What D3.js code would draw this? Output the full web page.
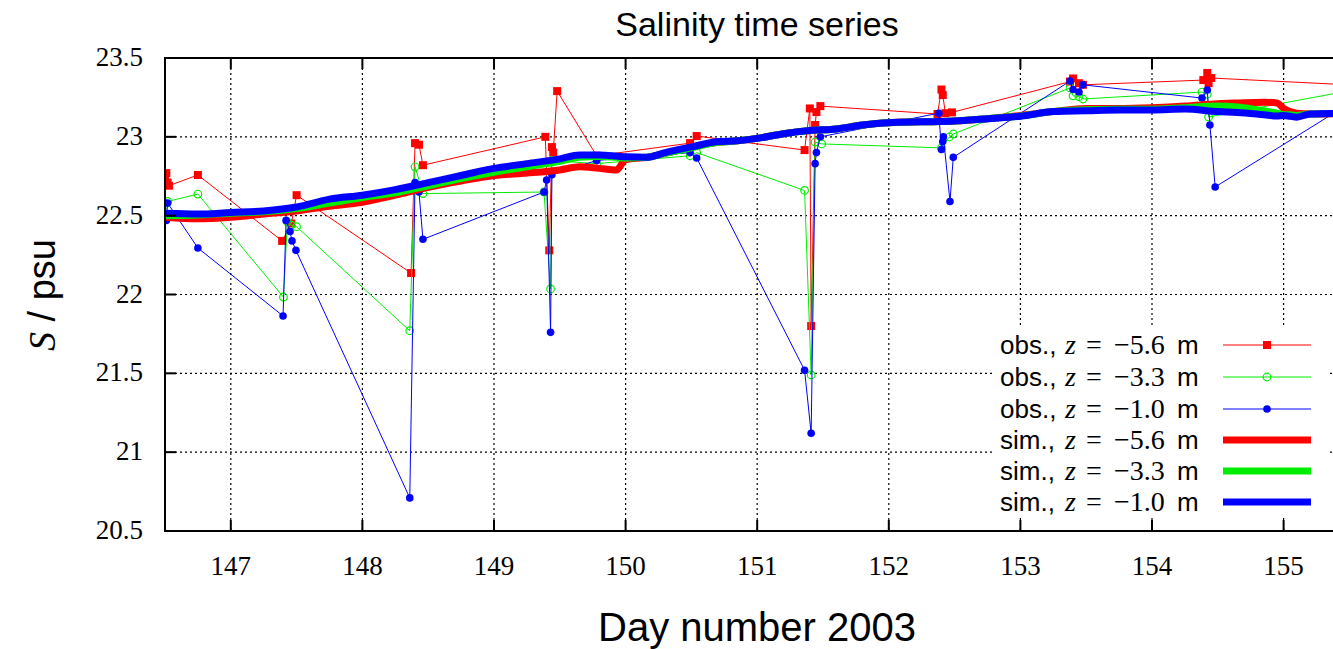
<!DOCTYPE html>
<html><head><meta charset="utf-8">
<script src="https://cdn.jsdelivr.net/npm/d3@7"></script>
<style>body{margin:0;background:#fff}svg{display:block}</style>
</head><body>
<svg id="c" width="1333" height="649"></svg>
<script>
// ---- data ----
const xTicks = [147,148,149,150,151,152,153,154,155];
const yTicks = [20.5,21,21.5,22,22.5,23,23.5];

const obsRedT = [146.50,146.51,146.52,146.53,146.75,147.39,147.46,147.50,148.37,148.40,148.43,148.46,149.39,149.42,149.44,149.45,149.48,149.78,150.49,150.54,151.36,151.40,151.41,151.44,151.45,151.48,152.37,152.40,152.41,152.43,152.48,153.377,153.40,153.445,153.475,154.39,154.42,154.43,154.45,155.42];
const obsRedS = [22.745,22.77,22.71,22.69,22.758,22.34,22.45,22.63,22.136,22.96,22.95,22.82,23.0,22.28,22.935,22.90,23.29,22.88,22.96,23.005,22.916,23.18,21.80,23.075,23.157,23.195,23.145,23.30,23.265,23.15,23.155,23.35,23.37,23.34,23.33,23.36,23.405,23.34,23.373,23.333];

const obsGreenT = [146.50,146.52,146.75,147.40,147.43,147.46,147.50,148.36,148.40,148.46,149.38,149.43,149.44,149.78,150.49,150.54,151.36,151.41,151.44,151.49,152.40,152.46,152.49,153.377,153.40,153.445,153.475,154.38,154.42,154.43,155.42];
const obsGreenS = [22.57,22.59,22.637,21.984,22.46,22.44,22.43,21.77,22.81,22.64,22.65,22.035,22.85,22.83,22.88,22.90,22.66,21.49,22.967,22.955,22.93,22.999,23.018,23.31,23.26,23.255,23.24,23.284,23.27,23.126,23.28];

const obsBlueT = [146.50,146.51,146.52,146.75,147.397,147.42,147.45,147.465,147.495,148.36,148.40,148.43,148.46,149.38,149.40,149.43,149.44,149.78,150.49,150.54,151.36,151.41,151.44,151.45,151.48,152.38,152.40,152.41,152.415,152.465,152.49,153.377,153.40,153.445,153.475,154.38,154.42,154.44,154.48,155.42];
const obsBlueS = [22.58,22.47,22.58,22.295,21.864,22.47,22.40,22.34,22.28,20.71,22.71,22.65,22.35,22.65,22.726,21.76,22.76,22.85,22.90,22.866,21.52,21.12,22.83,22.90,23.0,23.15,22.92,22.97,23.0,22.59,22.87,23.354,23.30,23.284,23.33,23.246,23.297,23.075,22.682,23.17];

const simT = [146.5,146.75,147,147.25,147.5,147.75,148,148.25,148.5,148.75,149,149.25,149.5,149.65,149.8,149.93,150,150.16,150.3,150.5,150.7,150.85,151,151.2,151.4,151.6,151.8,152,152.25,152.5,152.75,153,153.25,153.5,153.75,154,154.25,154.5,154.65,154.85,154.95,155,155.05,155.1,155.2,155.5];
const simRed   = [22.49,22.48,22.49,22.51,22.53,22.56,22.585,22.63,22.68,22.72,22.755,22.77,22.79,22.81,22.80,22.79,22.855,22.87,22.895,22.935,22.965,22.975,22.99,23.02,23.04,23.05,23.075,23.09,23.095,23.10,23.115,23.135,23.16,23.18,23.18,23.185,23.195,23.21,23.215,23.22,23.215,23.18,23.16,23.15,23.145,23.15];
const simGreen = [22.50,22.505,22.515,22.525,22.545,22.58,22.615,22.645,22.69,22.735,22.775,22.81,22.845,22.87,22.875,22.87,22.865,22.87,22.895,22.93,22.965,22.975,22.99,23.02,23.04,23.05,23.075,23.09,23.095,23.10,23.115,23.132,23.16,23.172,23.175,23.175,23.185,23.195,23.19,23.165,23.15,23.14,23.14,23.135,23.145,23.15];
const simBlue  = [22.515,22.51,22.52,22.53,22.555,22.605,22.63,22.665,22.71,22.755,22.80,22.83,22.86,22.885,22.885,22.878,22.873,22.87,22.90,22.936,22.97,22.975,22.99,23.02,23.04,23.05,23.075,23.09,23.095,23.10,23.115,23.13,23.16,23.165,23.17,23.17,23.176,23.16,23.155,23.14,23.132,23.135,23.13,23.125,23.145,23.15];

const legendLabels = ["obs.","obs.","obs.","sim.","sim.","sim."];
const legendDepths = ["\u22125.6","\u22123.3","\u22121.0","\u22125.6","\u22123.3","\u22121.0"];

// ---- drawing ----
const svg = d3.select("#c");
const L=165, T=58, B=531, R=165+9*131.6;
const x = d3.scaleLinear().domain([146.5,155.5]).range([L,R]);
const y = d3.scaleLinear().domain([20.5,23.5]).range([B,T]);
const RED="#ff0000", GREEN="#00ee00", BLUE="#0000ff";

svg.append("defs").append("clipPath").attr("id","clip")
  .append("rect").attr("x",L).attr("y",T).attr("width",R-L).attr("height",B-T);

// grid
const grid = svg.append("g").attr("stroke","#000").attr("stroke-width",1.2).attr("stroke-dasharray","2,3");
grid.selectAll(".gx").data(xTicks).join("line").attr("x1",d=>x(d)).attr("x2",d=>x(d)).attr("y1",T).attr("y2",B);
grid.selectAll(".gy").data(yTicks.slice(1,-1)).join("line").attr("x1",L).attr("x2",R).attr("y1",d=>y(d)).attr("y2",d=>y(d));

const data = svg.append("g").attr("clip-path","url(#clip)");
function obs(T_,S_,color,marker){
  const pts = T_.map((t,i)=>[t,S_[i]]);
  data.append("path").datum(pts).attr("fill","none").attr("stroke",color).attr("stroke-width",1)
    .attr("d",d3.line().x(d=>x(d[0])).y(d=>y(d[1])));
  const g = data.append("g");
  if(marker==="sq"){
    g.selectAll("rect").data(pts).join("rect").attr("x",d=>x(d[0])-4).attr("y",d=>y(d[1])-4)
      .attr("width",8).attr("height",8).attr("fill",color);
  } else if(marker==="oc"){
    g.selectAll("circle").data(pts).join("circle").attr("cx",d=>x(d[0])).attr("cy",d=>y(d[1])).attr("r",3.8)
      .attr("fill","none").attr("stroke",color).attr("stroke-width",1.2);
  } else {
    g.selectAll("circle").data(pts).join("circle").attr("cx",d=>x(d[0])).attr("cy",d=>y(d[1])).attr("r",3.8)
      .attr("fill",color);
  }
}
obs(obsRedT,obsRedS,RED,"sq");
obs(obsGreenT,obsGreenS,GREEN,"oc");
obs(obsBlueT,obsBlueS,BLUE,"fc");

function sim(vals,color){
  const pts = simT.map((t,i)=>[t,vals[i]]);
  data.append("path").datum(pts).attr("fill","none").attr("stroke",color).attr("stroke-width",7)
    .attr("stroke-linejoin","round")
    .attr("d",d3.line().curve(d3.curveMonotoneX).x(d=>x(d[0])).y(d=>y(d[1])));
}
sim(simRed,RED); sim(simGreen,GREEN); sim(simBlue,BLUE);

// frame + ticks
const fr = svg.append("g").attr("stroke","#000").attr("stroke-width",2);
fr.append("rect").attr("x",L).attr("y",T).attr("width",R-L).attr("height",B-T).attr("fill","none");
const tl=11;
fr.selectAll(".tx").data(xTicks).join("g").each(function(d){
  const g=d3.select(this);
  g.append("line").attr("x1",x(d)).attr("x2",x(d)).attr("y1",B).attr("y2",B-tl);
  g.append("line").attr("x1",x(d)).attr("x2",x(d)).attr("y1",T).attr("y2",T+tl);
});
fr.selectAll(".ty").data(yTicks).join("g").each(function(d){
  const g=d3.select(this);
  g.append("line").attr("x1",L).attr("x2",L+tl).attr("y1",y(d)).attr("y2",y(d));
  g.append("line").attr("x1",R).attr("x2",R-tl).attr("y1",y(d)).attr("y2",y(d));
});

// tick labels
const serif="'Liberation Serif','Times New Roman',serif", sans="'Liberation Sans',Arial,sans-serif";
svg.append("g").selectAll("text").data(yTicks).join("text")
  .attr("x",143).attr("y",d=>y(d)+8).attr("text-anchor","end")
  .attr("font-family",serif).attr("font-size",27).text(d=>d3.format(".1f")(d).replace(".0",""));
svg.append("g").selectAll("text").data(xTicks).join("text")
  .attr("x",d=>x(d)).attr("y",575).attr("text-anchor","middle")
  .attr("font-family",serif).attr("font-size",27).text(d=>d);

// titles
svg.append("text").attr("x",757).attr("y",36).attr("text-anchor","middle")
  .attr("font-family",sans).attr("font-size",34).text("Salinity time series");
svg.append("text").attr("x",757).attr("y",641).attr("text-anchor","middle")
  .attr("font-family",sans).attr("font-size",40).text("Day number 2003");
const yl = svg.append("text").attr("transform","translate(55,295) rotate(-90)").attr("text-anchor","middle")
  .attr("font-size",38);
yl.append("tspan").attr("font-family",serif).attr("font-style","italic").text("S");
yl.append("tspan").attr("font-family",sans).text(" / psu");

// legend
const lg = svg.append("g");
lg.append("rect").attr("x",995).attr("y",328).attr("width",335).attr("height",189).attr("fill","#fff");
const rowsY=[345,377,409,440,471,502];
const styles=[[RED,"sq",1],[GREEN,"oc",1],[BLUE,"fc",1],[RED,null,7],[GREEN,null,7],[BLUE,null,7]];
legendLabels.forEach((lab,i)=>{
  const cy=rowsY[i], by=cy+9;
  const t=lg.append("text").attr("y",by);
  t.append("tspan").attr("x",1000).attr("font-family",sans).attr("font-size",26).text(lab+",");
  t.append("tspan").attr("x",1065).attr("font-family",serif).attr("font-style","italic").attr("font-size",28).text("z");
  t.append("tspan").attr("x",1086).attr("font-family",serif).attr("font-size",28).text("=");
  t.append("tspan").attr("x",1114).attr("font-family",serif).attr("font-size",28).text(legendDepths[i]);
  t.append("tspan").attr("x",1177).attr("font-family",sans).attr("font-size",26).text("m");
  const [c,m,w]=styles[i];
  lg.append("line").attr("x1",1223).attr("x2",1311).attr("y1",cy).attr("y2",cy).attr("stroke",c).attr("stroke-width",w);
  if(m==="sq") lg.append("rect").attr("x",1263).attr("y",cy-4).attr("width",8).attr("height",8).attr("fill",c);
  if(m==="oc") lg.append("circle").attr("cx",1267).attr("cy",cy).attr("r",3.8).attr("fill","none").attr("stroke",c).attr("stroke-width",1.2);
  if(m==="fc") lg.append("circle").attr("cx",1267).attr("cy",cy).attr("r",3.8).attr("fill",c);
});
</script>
</body></html>
